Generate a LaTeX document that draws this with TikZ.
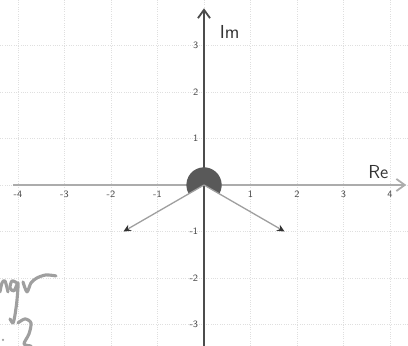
\documentclass[tikz,border=0pt]{standalone}
\usepackage{tikz}
\usetikzlibrary{arrows.meta}

\begin{document}
\begin{tikzpicture}
        \useasboundingbox (-4.387,-3.462) rectangle (4.387,3.978);

        % Grid
        \foreach \x in {-4,...,4}
          \draw[gray!25, densely dotted] (\x,-3.462) -- (\x,3.978);
        \foreach \y in {-3,...,3}
          \draw[gray!25, densely dotted] (-4.387,\y) -- (4.387,\y);

        % Axes
        \draw[line width=1.1pt, gray!65, -{Straight Barb[length=1.8mm, width=2.6mm]}] (-4.1,0) -- (4.35,0);
        \draw[line width=1.1pt, black!70, -{Straight Barb[length=1.8mm, width=2.6mm]}] (0,-3.462) -- (0,3.8);
        \node[font=\sffamily\fontsize{11.5}{13}\selectfont, black!80] (re) at (3.75,0.27) {Re};
        \node[font=\sffamily\fontsize{11.5}{13}\selectfont, black!80] (im) at (0.55,3.3) {Im};

        % Tick labels
        \foreach \x in {-4,-3,-2,-1,1,2,3,4}
          \node[font=\sffamily\scriptsize, black!70, scale=0.85] at (\x,-0.2) {\x};
        \foreach \y in {-3,-2,-1,1,2,3}
          \node[font=\sffamily\scriptsize, black!70, scale=0.85, anchor=east] at (-0.02,\y) {\y};

        % Angle sector
        \coordinate (O) at (0,0);
        \fill[black!65] (O) -- (-30:0.38) arc[start angle=-30, end angle=210, radius=0.38] -- cycle;

        % Vectors
        \coordinate (A) at (-1.732,-1);
        \coordinate (B) at (1.732,-1);
        \draw[gray!75, line width=0.8pt, -{Stealth[length=1.6mm, width=1.5mm, black!80]}] (O) -- (A);
        \draw[gray!75, line width=0.8pt, -{Stealth[length=1.6mm, width=1.5mm, black!80]}] (O) -- (B);

        % Handwriting in the corner
        \begin{scope}[shift={(-4.387,3.978)}, x=0.0215cm, y=-0.0215cm, gray!75, line width=1.9pt, line cap=round, line join=round]
          \draw plot[smooth] coordinates {(0,292) (2,283) (5,281) (8,292)};
          \draw plot[smooth] coordinates {(17,283) (12,281) (10,288) (14,291) (18,283) (17,300) (15,315) (13,323) (10,319)};
          \draw plot[smooth] coordinates {(23,282) (27,292) (31,283) (37,278) (46,275) (56,276)};
          \draw plot[smooth] coordinates {(18,323) (25,319) (31,323) (29,334) (24,344) (31,346)};
          \fill (3,340) circle[radius=1.2];
        \end{scope}
\end{tikzpicture}
\end{document}
